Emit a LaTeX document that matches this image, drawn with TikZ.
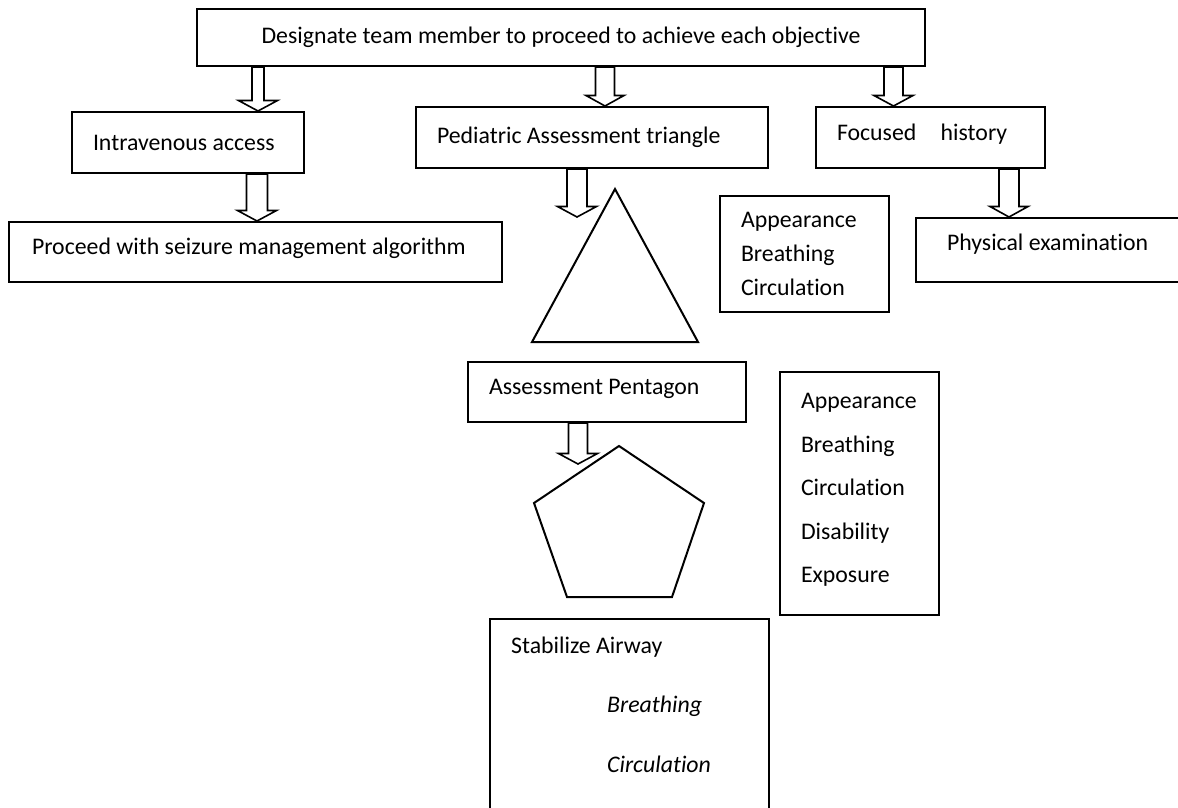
\documentclass[tikz,border=0pt]{standalone}
\usepackage{fontspec}
\setmainfont{Carlito}[Ligatures=NoCommon]
\usetikzlibrary{calc}
\newcommand\bodysize{\fontsize{23.8pt}{28pt}\selectfont}
% hollow block arrow: start point, tip point, shaft half width, head half width
\newcommand\hollowarrow[4]{%
  \draw[arrowline] let \p1=(#1), \p2=(#2) in
    (\x1-#3pt,\y1) -- (\x1-#3pt,\y2+10.5pt) -- (\x1-#4pt,\y2+10.5pt) --
    (\x1,\y2) -- (\x1+#4pt,\y2+10.5pt) -- (\x1+#3pt,\y2+10.5pt) --
    (\x1+#3pt,\y1) -- cycle;
}
\tikzset{
  box/.style={draw, line width=2pt, rectangle, inner ysep=0pt, font=\bodysize},
  lbox/.style n args={3}{box, minimum width=#1pt, minimum height=#2pt, inner xsep=#3pt, align=flush left},
  plain/.style={inner sep=0pt, font=\bodysize},
  arrowline/.style={draw, line width=1.6pt, fill=white},
  figline/.style={draw, line width=2pt, line join=miter},
}
\begin{document}
\begin{tikzpicture}[x=1pt,y=-1pt]
\path[fill=white, use as bounding box] (0,0) rectangle (1178,807);
\clip (0,0) rectangle (1178,807);

% boxes
\node[box, minimum width=728pt, minimum height=57pt, align=center] (top) at (561,37.5)
  {Designate team member to proceed to achieve each objective};
\node[lbox={232}{61}{21}, text width=190pt] (iv) at (188,142.5) {Intravenous access};
\node[lbox={352}{61}{21}, text width=310pt] (pat) at (592,137.5) {Pediatric Assessment triangle};
\node[lbox={229}{61}{21}, text width=187pt, text depth=10pt] (fh) at (930.5,137.5) {Focused\hspace{19pt} history};
\node[lbox={493}{60}{23}, text width=447pt, text depth=11pt] (psm) at (255.5,252) {Proceed with seizure management algorithm};
\node[lbox={169}{116}{21}, text width=127pt, font=\fontsize{23.8pt}{34pt}\selectfont] (abc) at (804.5,254)
  {Appearance\\Breathing\\Circulation};
\node[lbox={274}{64}{31}, text width=212pt, text depth=16pt] (pe) at (1053,250) {Physical examination};
\node[lbox={278}{60}{21}, text width=236pt, text depth=10pt] (apb) at (607,392) {Assessment Pentagon};
\node[lbox={159}{243}{21}, text width=117pt, font=\fontsize{23.8pt}{43.5pt}\selectfont] (abcde) at (859.5,493.5)
  {Appearance\\Breathing\\Circulation\\Disability\\Exposure\\[-33pt]\mbox{}};
\node[box, minimum width=279pt, minimum height=240pt, anchor=north west] (sab) at (489,618) {};
\node[plain, anchor=base west] (sab1) at (511,653) {Stabilize Airway};
\node[plain, anchor=base west, font=\bodysize\itshape] (sab2) at (607,712) {Breathing};
\node[plain, anchor=base west, font=\bodysize\itshape] (sab3) at (607,772) {Circulation};

% triangle
\coordinate (tA) at (615,189);
\coordinate (tB) at (698,342);
\coordinate (tC) at (532,342);
\draw[figline] (tA) -- (tB) -- (tC) -- cycle;

% pentagon
\coordinate (pA) at (619,446);
\coordinate (pB) at (704,503);
\coordinate (pC) at (672,597);
\coordinate (pD) at (567,597);
\coordinate (pE) at (534,503);
\draw[figline] (pA) -- (pB) -- (pC) -- (pD) -- (pE) -- cycle;

% arrow columns and free tips
\coordinate (xa) at (258,0);
\coordinate (xb) at (605,0);
\coordinate (xc) at (893.5,0);
\coordinate (xd) at (257,0);
\coordinate (xe) at (577,0);
\coordinate (xf) at (1009,0);
\coordinate (xg) at (578,0);
\coordinate (t5) at (577,217);
\coordinate (t7) at (578,464);

\hollowarrow{top.south -| xa}{iv.north -| xa}{6}{19.5}
\hollowarrow{top.south -| xb}{pat.north -| xb}{9.5}{19}
\hollowarrow{top.south -| xc}{fh.north -| xc}{9.5}{19.5}
\hollowarrow{iv.south -| xd}{psm.north -| xd}{10.5}{19.5}
\hollowarrow{pat.south -| xe}{t5}{10}{19.5}
\hollowarrow{fh.south -| xf}{pe.north -| xf}{10}{19}
\hollowarrow{apb.south -| xg}{t7}{9.5}{19.5}
\end{tikzpicture}
\end{document}
